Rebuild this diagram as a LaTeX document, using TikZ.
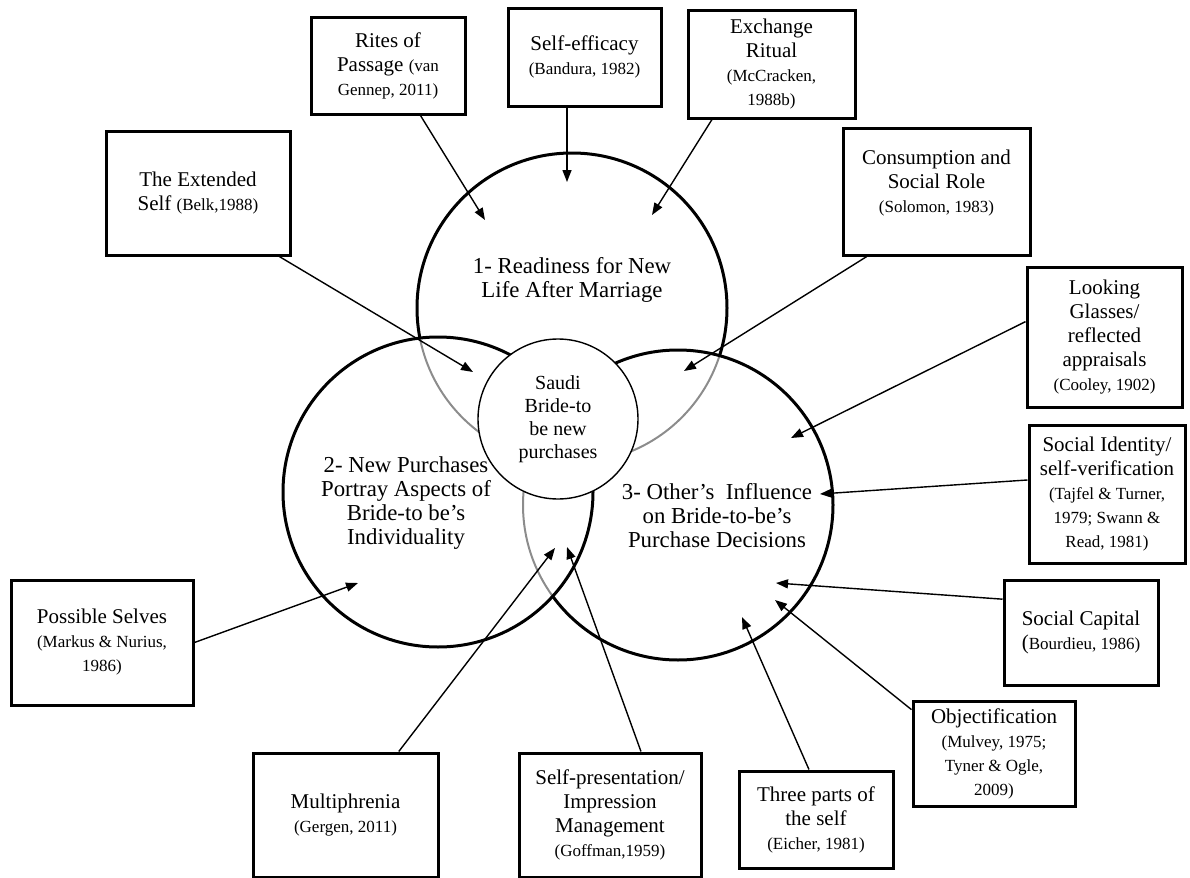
\documentclass[tikz,border=0pt]{standalone}
\usepackage{fontspec}
\setmainfont{Liberation Serif}
\usepackage{xcolor}
\usepackage{tikz}
\usetikzlibrary{arrows.meta}
\definecolor{ringgray}{RGB}{140,140,140}
\newcommand{\mainsize}{\fontsize{10.5}{12}\selectfont}
\newcommand{\refsize}{\fontsize{8.5}{11}\selectfont}
\tikzset{
  theorybox/.style={
    rectangle,
    draw=black,
    line width=1.5pt,
    align=center,
    font=\mainsize,
    fill=white,
    inner sep=2pt
  },
  ring/.style={
    draw=black,
    line width=1.5pt
  },
  faintring/.style={
    draw=ringgray,
    line width=1pt
  },
  core/.style={
    circle,
    draw=black,
    line width=0.7pt,
    fill=white,
    minimum size=80pt,
    inner sep=0pt,
    align=center,
    font=\fontsize{10}{11.5}\selectfont
  },
  ringlabel/.style={
    align=center,
    inner sep=0pt,
    font=\fontsize{11.4}{12}\selectfont
  },
  pointer/.style={-{Triangle[length=6pt,width=4.5pt]}, line width=0.7pt}
}

\begin{document}
\begin{tikzpicture}[x=0.5pt,y=-0.5pt]
\useasboundingbox (0,0) rectangle (1190,878);
% centres of the three rings
\coordinate (c1) at (572,308);
\coordinate (c2) at (438,492);
\coordinate (c3) at (678,505);

% parts of the rings that lie inside another ring
\begin{scope}
  \clip (c2) circle[radius=155];
  \draw[faintring] (c1) circle[radius=155];
  \draw[faintring] (c3) circle[radius=155];
\end{scope}
\begin{scope}
  \clip (c3) circle[radius=155];
  \draw[faintring] (c1) circle[radius=155];
\end{scope}
% outer parts
\begin{scope}[even odd rule]
  \clip (0,0) rectangle (1190,878) (c2) circle[radius=155];
  \draw[ring] (c3) circle[radius=155];
  \clip (0,0) rectangle (1190,878) (c3) circle[radius=155];
  \draw[ring] (c1) circle[radius=155];
\end{scope}
\draw[ring] (c2) circle[radius=155];

\node[core] (bride) at (558,419) {Saudi\\Bride-to\\be new\\purchases};

\node[ringlabel] (readiness) at (572,280) {1- Readiness for New\\Life After Marriage};
\node[ringlabel] (portray) at (406,503) {2- New Purchases\\Portray Aspects of\\Bride-to be's\\Individuality};
\node[ringlabel] (influence) at (717,516) {3- Other's~ Influence\\on Bride-to-be's\\Purchase Decisions};

% theory boxes
\node[theorybox, minimum width=77pt, minimum height=48.5pt] (rites) at (388,65.5) {Rites of\\Passage {\refsize (van}\\{\refsize Gennep, 2011)}};
\node[theorybox, minimum width=76.5pt, minimum height=49pt] (efficacy) at (584.5,57) {Self-efficacy\\{\refsize (Bandura, 1982)}};
\node[theorybox, minimum width=83.5pt, minimum height=54pt] (exchange) at (771.5,64) {Exchange\\Ritual\\{\refsize (McCracken,}\\{\refsize 1988b)}};
\node[theorybox, minimum width=92pt, minimum height=62pt] (extended) at (198,193) {The Extended\\Self {\refsize (Belk,1988)}};
\node[theorybox, minimum width=93.5pt, minimum height=63.5pt] (role) at (936.5,191.5) {Consumption and\\Social Role\\{\refsize (Solomon, 1983)}\\[-2pt]\mbox{}};
\node[theorybox, minimum width=77.5pt, minimum height=70pt] (glass) at (1104.5,337) {Looking\\Glasses/\\reflected\\appraisals\\{\refsize (Cooley, 1902)}};
\node[theorybox, minimum width=78pt, minimum height=69pt] (identity) at (1107,494) {Social Identity/\\self-verification\\{\refsize (Tajfel \& Turner,}\\{\refsize 1979; Swann \&}\\{\refsize Read, 1981)}};
\node[theorybox, minimum width=77pt, minimum height=52.5pt] (capital) at (1081,632.5) {Social Capital\\({\refsize Bourdieu, 1986)}};
\node[theorybox, minimum width=81pt, minimum height=52.5pt] (object) at (994,753.5) {Objectification\\{\refsize (Mulvey, 1975;}\\{\refsize Tyner \& Ogle,}\\{\refsize 2009)}};
\node[theorybox, minimum width=77pt, minimum height=48.5pt] (threeparts) at (816,819.5) {Three parts of\\the self\\{\refsize (Eicher, 1981)}};
\node[theorybox, minimum width=91pt, minimum height=62pt] (presentation) at (610,815) {Self-presentation/\\Impression\\Management\\{\refsize (Goffman,1959)}};
\node[theorybox, minimum width=92.5pt, minimum height=62pt] (multi) at (345.5,815) {Multiphrenia\\{\refsize (Gergen, 2011)}};
\node[theorybox, minimum width=91pt, minimum height=62.5pt] (possible) at (102,642.5) {Possible Selves\\{\refsize (Markus \& Nurius,}\\{\refsize 1986)}};

% where the arrows end
\coordinate (tRites) at (485,220);
\coordinate (tEfficacy) at (567,182);
\coordinate (tExchange) at (652,215);
\coordinate (tExtended) at (473,372);
\coordinate (tRole) at (684,371);
\coordinate (tGlass) at (791,438);
\coordinate (tIdentity) at (820,494);
\coordinate (tCapital) at (776,583);
\coordinate (tObject) at (775,600);
\coordinate (tThree) at (742,617);
\coordinate (tPresent) at (567,547);
\coordinate (tMulti) at (555,548);
\coordinate (tPossible) at (358,583);

\draw[pointer] (rites.303) -- (tRites);
\draw[pointer] (efficacy.south -| tEfficacy) -- (tEfficacy);
\draw[pointer] (exchange.223) -- (tExchange);
\draw[pointer] (extended.322) -- (tExtended);
\draw[pointer] (role.223) -- (tRole);
\draw[pointer] (glass.169) -- (tGlass);
\draw[pointer] (identity.170) -- (tIdentity);
\draw[pointer] (capital.157) -- (tCapital);
\draw[pointer] (object.152) -- (tObject);
\draw[pointer] (threeparts.98) -- (tThree);
\draw[pointer] (presentation.64) -- (tPresent);
\draw[pointer] (multi.50) -- (tMulti);
\draw[pointer] (possible.east) -- (tPossible);
\end{tikzpicture}
\end{document}
